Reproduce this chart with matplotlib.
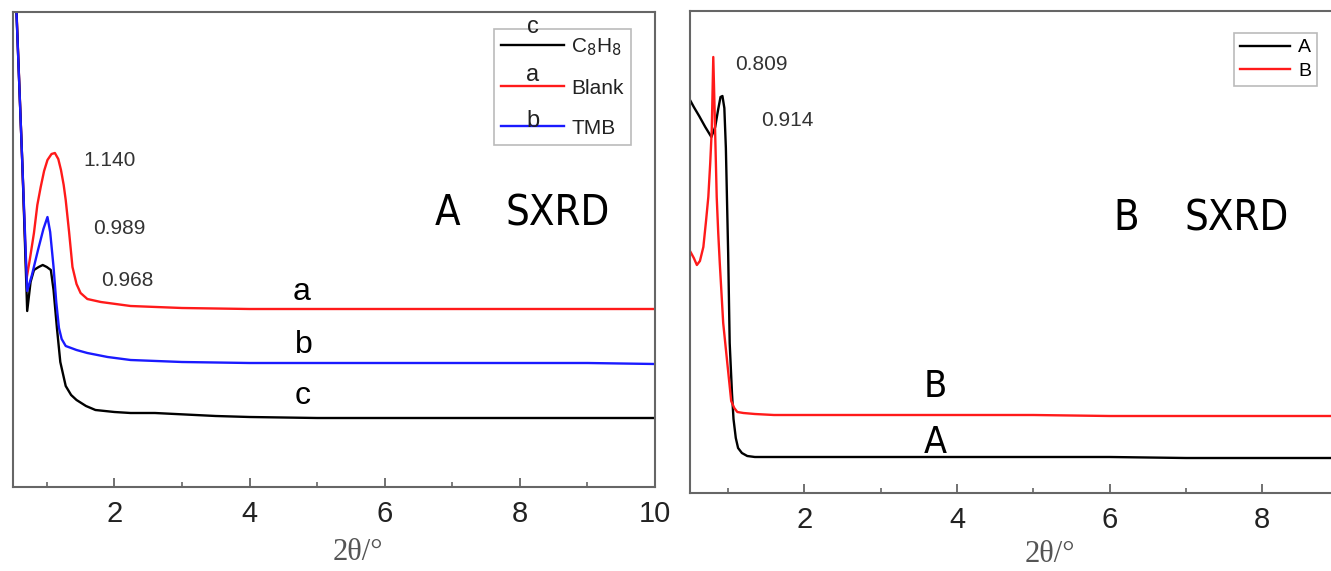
import matplotlib
matplotlib.use("Agg")
import matplotlib.pyplot as plt
from matplotlib import font_manager
from matplotlib.font_manager import FontProperties

# ---------------- data ----------------
# panel A : 2theta (deg) vs intensity (a.u.)
blank_x = [0.50, 0.55, 0.62, 0.70, 0.75, 0.81, 0.86, 0.91, 0.96, 1.01, 1.07, 1.12, 1.17,
           1.21, 1.25, 1.28, 1.33, 1.38, 1.44, 1.50, 1.60, 1.80, 2.24, 3.0, 4.0, 5.0,
           6.0, 7.0, 8.0, 9.0, 10.0]
blank_y = [570, 480, 355, 208, 228, 254, 282, 300, 316, 327, 333, 334, 328,
           317, 302, 287, 255, 220, 203, 194, 188, 185, 181, 179, 178, 178,
           178, 178, 178, 178, 178]

tmb_x = [0.50, 0.55, 0.64, 0.71, 0.78, 0.87, 0.95, 1.01, 1.05, 1.10, 1.14, 1.18,
         1.22, 1.28, 1.36, 1.44, 1.60, 1.90, 2.24, 3.0, 4.0, 5.0, 6.0, 7.0, 8.0,
         9.0, 10.0]
tmb_y = [570, 477, 320, 196, 212, 237, 258, 270, 255, 220, 185, 159,
         148, 141, 139, 137, 134, 130, 127, 125, 124, 124, 124, 124, 124,
         124, 123]

c8h8_x = [0.50, 0.55, 0.64, 0.71, 0.76, 0.81, 0.88, 0.94, 1.00, 1.06, 1.10, 1.15,
          1.20, 1.28, 1.36, 1.44, 1.58, 1.72, 2.0, 2.24, 2.6, 2.9, 3.2, 3.5, 4.0,
          5.0, 6.0, 7.0, 8.0, 9.0, 10.0]
c8h8_y = [570, 477, 320, 176, 205, 217, 220, 222, 220, 217, 197, 159,
          125, 101, 92, 87, 81, 77, 75, 74, 74, 73, 72, 71, 70,
          69, 69, 69, 69, 69, 69]

# panel B
sa_x = [0.50, 0.55, 0.62, 0.70, 0.78, 0.83, 0.87, 0.90, 0.925, 0.95, 0.97, 1.00,
        1.02, 1.05, 1.07, 1.10, 1.13, 1.18, 1.25, 1.35, 1.6, 2.0, 3.0, 4.0, 5.0,
        6.0, 7.0, 8.0, 9.0, 10.0]
sa_y = [393, 386, 377, 366, 356, 366, 384, 396, 397, 385, 345, 240,
        150, 100, 74, 55, 45, 40, 37, 36, 36, 36, 36, 36, 36,
        36, 35, 35, 35, 35]

sb_x = [0.50, 0.55, 0.59, 0.63, 0.675, 0.71, 0.74, 0.765, 0.785, 0.805, 0.825, 0.85,
        0.87, 0.89, 0.935, 0.99, 1.04, 1.08, 1.12, 1.2, 1.35, 1.6, 2.0, 3.0,
        4.0, 5.0, 6.0, 7.0, 8.0, 9.0, 10.0]
sb_y = [242, 235, 228, 232, 246, 272, 296, 330, 363, 436, 375, 296,
        260, 230, 170, 129, 92, 85, 81, 80, 79, 78, 78, 78,
        78, 78, 77, 77, 77, 77, 77]

peaks_a = ["1.140", "0.989", "0.968"]
peaks_b = ["0.809", "0.914"]
xticks_a = [2, 4, 6, 8, 10]
xticks_b = [2, 4, 6, 8]

# ---------------- fonts ----------------
plt.rcParams["font.family"] = ["Liberation Sans", "DejaVu Sans"]

# the panel titles use a condensed face; take one if the system has it
narrow_file = None
for f in font_manager.fontManager.ttflist:
    cond = f.stretch in ("condensed", "semi-condensed", "extra-condensed") \
        or "Narrow" in f.name or "Condensed" in f.name
    if cond and f.style == "normal" and f.weight in (400, "normal", "regular", "book"):
        narrow_file = f.fname
        break


def nfont(size):
    if narrow_file:
        return FontProperties(fname=narrow_file, size=size)
    return FontProperties(family="DejaVu Sans", size=size * 0.88)


W, H = 1331, 571
fig = plt.figure(figsize=(W / 100, H / 100), dpi=100)

spine_c = "#666666"


def style(ax, ticks):
    for s in ax.spines.values():
        s.set_color(spine_c)
        s.set_linewidth(1.5)
    ax.set_xticks(ticks)
    ax.set_xticks([1, 3, 5, 7, 9], minor=True)
    ax.tick_params(axis="x", which="major", direction="in", length=6.5, width=1.3,
                   color=spine_c, labelsize=21, pad=9, labelcolor="#222222")
    ax.tick_params(axis="x", which="minor", direction="in", length=3.5, width=1.2,
                   color=spine_c)
    ax.set_yticks([])
    ax.set_xlabel("2θ/°", fontsize=22, family=["Liberation Serif", "DejaVu Serif"],
                  color="#555555", va="top")


# ---------------- panel A ----------------
axa = fig.add_axes([13 / W, (H - 487) / H, (655 - 13) / W, (487 - 12) / H])
l_blank, = axa.plot(blank_x, blank_y, color="#ff1a1a", lw=1.7)
l_c8h8, = axa.plot(c8h8_x, c8h8_y, color="black", lw=1.7)
l_tmb, = axa.plot(tmb_x, tmb_y, color="#1a1aff", lw=1.7)
axa.set_xlim(0.5, 10)
axa.set_ylim(0, 475)
style(axa, xticks_a)
axa.xaxis.set_label_coords(0.537, -0.108)

for txt, (x, y) in zip(peaks_a, [(1.93, 327), (2.08, 259), (2.19, 207)]):
    axa.text(x, y, txt, fontsize=15, color="#333333", ha="center", va="center")
axa.text(6.93, 274, "A", fontproperties=nfont(30), ha="center", va="center")
axa.text(8.56, 274, "SXRD", fontproperties=nfont(30), ha="center", va="center")
for txt, x, y in [("a", 4.77, 187), ("b", 4.80, 134), ("c", 4.79, 83)]:
    axa.text(x, y, txt, fontsize=23, ha="center", va="baseline")

lega = axa.legend([l_c8h8, l_blank, l_tmb], ["C$_8$H$_8$", "Blank", "TMB"],
                  loc="upper right", bbox_to_anchor=(631 / W, (H - 29) / H),
                  bbox_transform=fig.transFigure, borderaxespad=0,
                  fontsize=15, handlelength=3.0, handletextpad=0.35,
                  labelspacing=1.0, borderpad=0.35, fancybox=False,
                  edgecolor="#bbbbbb", framealpha=1)
lega.get_frame().set_linewidth(1.2)
for t in lega.get_texts():
    t.set_color("#222222")

# ---------------- panel B ----------------
axb = fig.add_axes([690 / W, (H - 493) / H, (1415 - 690) / W, (493 - 11) / H])
axb.plot(sa_x, sa_y, color="black", lw=1.7, label="A")
axb.plot(sb_x, sb_y, color="#ff1a1a", lw=1.7, label="B")
axb.set_xlim(0.5, 10)
axb.set_ylim(0, 482)
style(axb, xticks_b)
axb.xaxis.set_label_coords(0.497, -0.098)

for txt, (x, y) in zip(peaks_b, [(1.44, 429), (1.77, 373)]):
    axb.text(x, y, txt, fontsize=15, color="#333333", ha="center", va="center")
axb.text(6.21, 275, "B", fontproperties=nfont(30), ha="center", va="center")
axb.text(7.67, 275, "SXRD", fontproperties=nfont(30), ha="center", va="center")
axb.text(3.72, 96, "B", fontproperties=nfont(27), ha="center", va="baseline")
axb.text(3.72, 40, "A", fontproperties=nfont(27), ha="center", va="baseline")

legb = axb.legend(loc="upper right", bbox_to_anchor=(1317 / W, (H - 33) / H),
                  bbox_transform=fig.transFigure, borderaxespad=0,
                  fontsize=14, handlelength=2.6, handletextpad=0.4,
                  labelspacing=0.3, borderpad=0.3, fancybox=False,
                  edgecolor="#bbbbbb", framealpha=1)
legb.get_frame().set_linewidth(1.2)

# letters sitting on the legend lines of panel A
fig.canvas.draw()
inv = fig.transFigure.inverted()
for line, letter, off in zip(lega.get_lines(), ["c", "a", "b"], [12, 5, -1]):
    bb = line.get_window_extent()
    cx = (bb.x0 + bb.x1) / 2
    cy = (bb.y0 + bb.y1) / 2 + off
    fx, fy = inv.transform((cx, cy))
    fig.text(fx, fy, letter, fontsize=17, ha="center", va="baseline", color="#222222")

fig.savefig("out.png", dpi=100)
